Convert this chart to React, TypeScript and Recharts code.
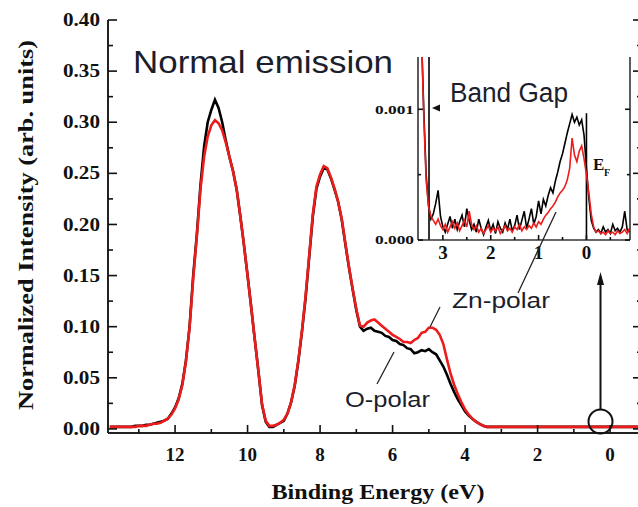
import React from "react";
import { LineChart, Line, XAxis, YAxis, ReferenceLine } from "recharts";

// main spectrum, binding energy in eV (x axis runs high -> low)
const energy = [
  13.8, 13.7, 13.6, 13.5, 13.4, 13.3, 13.2, 13.1, 13.0, 12.9,
  12.8, 12.7, 12.6, 12.5, 12.4, 12.3, 12.2, 12.1, 12.0, 11.9,
  11.8, 11.7, 11.6, 11.5, 11.4, 11.3, 11.2, 11.1, 11.0, 10.9,
  10.8, 10.7, 10.6, 10.5, 10.4, 10.3, 10.2, 10.1, 10.0, 9.9,
  9.8, 9.7, 9.6, 9.5, 9.4, 9.3, 9.2, 9.1, 9.0, 8.9,
  8.8, 8.7, 8.6, 8.5, 8.4, 8.3, 8.2, 8.1, 8.0, 7.9,
  7.8, 7.7, 7.6, 7.5, 7.4, 7.3, 7.2, 7.1, 7.0, 6.9,
  6.8, 6.7, 6.6, 6.5, 6.4, 6.3, 6.2, 6.1, 6.0, 5.9,
  5.8, 5.7, 5.6, 5.5, 5.4, 5.3, 5.2, 5.1, 5.0, 4.9,
  4.8, 4.7, 4.6, 4.5, 4.4, 4.3, 4.2, 4.1, 4.0, 3.9,
  3.8, 3.7, 3.6, 3.5, 3.4, 3.3, 3.2,
  3.0, 2.5, 2.0, 1.5, 1.0, 0.5, 0.0, -0.5, -0.88,
];

const oPolar = [
  0.002, 0.002, 0.002, 0.002, 0.002, 0.002, 0.002, 0.003, 0.003, 0.003,
  0.004, 0.004, 0.005, 0.006, 0.007, 0.008, 0.010, 0.015, 0.021, 0.030,
  0.044, 0.067, 0.100, 0.150, 0.190, 0.238, 0.276, 0.300, 0.312, 0.322,
  0.314, 0.300, 0.282, 0.266, 0.252, 0.234, 0.208, 0.180, 0.150, 0.119,
  0.087, 0.056, 0.023, 0.007, 0.002, 0.002, 0.004, 0.006, 0.008, 0.015,
  0.026, 0.042, 0.066, 0.095, 0.128, 0.168, 0.208, 0.235, 0.247, 0.255,
  0.254, 0.245, 0.234, 0.222, 0.204, 0.180, 0.157, 0.136, 0.116, 0.100,
  0.096, 0.098, 0.099, 0.096, 0.095, 0.094, 0.091, 0.090, 0.087, 0.086,
  0.083, 0.082, 0.079, 0.078, 0.074, 0.075, 0.077, 0.076, 0.078, 0.075,
  0.073, 0.067, 0.061, 0.053, 0.044, 0.036, 0.029, 0.023, 0.017, 0.013,
  0.010, 0.007, 0.005, 0.003, 0.002, 0.002, 0.002,
  0.002, 0.002, 0.002, 0.002, 0.002, 0.002, 0.002, 0.002, 0.002,
];

const znPolar = [
  0.002, 0.002, 0.002, 0.002, 0.002, 0.002, 0.002, 0.002, 0.003, 0.003,
  0.003, 0.004, 0.005, 0.005, 0.006, 0.008, 0.010, 0.014, 0.020, 0.029,
  0.043, 0.066, 0.099, 0.147, 0.188, 0.234, 0.266, 0.286, 0.297, 0.302,
  0.299, 0.292, 0.280, 0.266, 0.252, 0.234, 0.208, 0.180, 0.150, 0.119,
  0.087, 0.056, 0.024, 0.008, 0.003, 0.003, 0.004, 0.006, 0.009, 0.015,
  0.026, 0.043, 0.067, 0.096, 0.130, 0.170, 0.210, 0.237, 0.249, 0.257,
  0.255, 0.246, 0.235, 0.222, 0.205, 0.181, 0.158, 0.137, 0.117, 0.101,
  0.100, 0.104, 0.106, 0.107, 0.104, 0.101, 0.098, 0.095, 0.092, 0.090,
  0.088, 0.085, 0.085, 0.084, 0.087, 0.089, 0.094, 0.095, 0.099, 0.099,
  0.097, 0.092, 0.083, 0.068, 0.054, 0.043, 0.034, 0.026, 0.019, 0.014,
  0.010, 0.007, 0.005, 0.003, 0.002, 0.002, 0.002,
  0.002, 0.002, 0.002, 0.002, 0.002, 0.002, 0.002, 0.002, 0.002,
];

// inset: band gap region
const insetEnergy = [
  3.45, 3.4, 3.35, 3.3, 3.25, 3.2, 3.15, 3.1, 3.05, 3.0,
  2.95, 2.9, 2.85, 2.8, 2.75, 2.7, 2.65, 2.6, 2.55, 2.5,
  2.45, 2.4, 2.35, 2.3, 2.25, 2.2, 2.15, 2.1, 2.05, 2.0,
  1.95, 1.9, 1.85, 1.8, 1.75, 1.7, 1.65, 1.6, 1.55, 1.5,
  1.45, 1.4, 1.35, 1.3, 1.25, 1.2, 1.15, 1.1, 1.05, 1.0,
  0.95, 0.9, 0.85, 0.8, 0.75, 0.7, 0.65, 0.6, 0.55, 0.5,
  0.45, 0.4, 0.35, 0.3, 0.25, 0.2, 0.15, 0.1, 0.05, 0.0,
  -0.05, -0.1, -0.15, -0.2, -0.25, -0.3, -0.35, -0.4, -0.45, -0.5,
  -0.55, -0.6, -0.65, -0.7, -0.75, -0.8, -0.85, -0.9,
];

const insetO = [
  0.0016, 0.001, 0.0005, 0.00026, 0.00016, 0.0002, 0.00028, 0.00038, 0.00018, 0.0001,
  0.00006, 0.00012, 0.00018, 0.00009, 0.00016, 0.00008, 0.00014, 0.00019, 0.0001, 0.00024,
  0.00015, 0.00008, 0.00012, 0.00006, 0.00016, 0.00009, 0.00004, 0.0001, 0.00015, 0.00007,
  0.00012, 0.00005, 0.00014, 0.00009, 0.00006, 0.00013, 0.00008, 0.00016, 0.00007, 0.00011,
  0.00019, 0.00008, 0.00015, 0.00022, 0.00009, 0.00016, 0.00024, 0.00012, 0.00018, 0.0003,
  0.0002, 0.00031, 0.00026, 0.00034, 0.0004, 0.00036, 0.00045, 0.00052, 0.0006, 0.00066,
  0.00074, 0.00082, 0.00089, 0.00096, 0.0009, 0.00094, 0.00088, 0.00092, 0.0008, 0.00055,
  0.00032, 0.00015, 0.00009, 0.00006, 0.00008, 0.00005, 0.0001, 0.00006, 0.00008, 0.00005,
  0.00012, 0.00007, 0.00009, 0.00006, 0.0001, 0.00022, 0.00008, 0.00006,
];

const insetZn = [
  0.0016, 0.00095, 0.00046, 0.00026, 0.00018, 0.00015, 0.00012, 0.00016, 0.00011, 0.00008,
  0.00012, 0.00006, 0.0001, 0.00014, 0.00009, 0.00013, 0.00007, 0.00011, 0.00015, 0.0001,
  0.00022, 0.00012, 0.00008, 0.00011, 0.00006, 0.00009, 0.00005, 0.00008, 0.00011, 0.00006,
  0.00009, 0.00007, 0.0001, 0.00005, 0.00008, 0.00011, 0.00007, 0.00009, 0.00006, 0.0001,
  0.00008, 0.00012, 0.00007, 0.0001, 0.00008, 0.00011, 0.00009, 0.00013, 0.0001, 0.00014,
  0.00012, 0.00016, 0.00019, 0.00021, 0.00024, 0.00026, 0.00029, 0.00033, 0.00036, 0.00038,
  0.00041, 0.00046, 0.00055, 0.00078, 0.00065, 0.0006, 0.00068, 0.00072, 0.00062, 0.0005,
  0.00036, 0.0002, 0.0001, 0.00006, 0.00007, 0.00005, 0.00006, 0.00004, 0.00007, 0.00005,
  0.00006, 0.00004, 0.00007, 0.00005, 0.00006, 0.00008, 0.00005, 0.00009,
];

const mainXTicks = [13, 12, 11, 10, 9, 8, 7, 6, 5, 4, 3, 2, 1, 0];
const mainYTicks = [
  0, 0.025, 0.05, 0.075, 0.1, 0.125, 0.15, 0.175, 0.2,
  0.225, 0.25, 0.275, 0.3, 0.325, 0.35, 0.375, 0.4,
];
const insetXTicks = [3, 2.5, 2, 1.5, 1, 0.5, 0, -0.5];
const insetYTicks = [0, 0.0005, 0.001];

const SERIF = '"Liberation Serif", "Times New Roman", serif';
const SANS = '"Liberation Sans", Arial, sans-serif';
const INK = "#1b1e2c";
const RED = "#ec1c1c";

const mainRows = energy.map((e, i) => ({ e, o: oPolar[i], zn: znPolar[i] }));
const insetRows = insetEnergy.map((e, i) => ({ e, o: insetO[i], zn: insetZn[i] }));

const isMajor = (v: number, step: number) =>
  Math.abs(v / step - Math.round(v / step)) < 1e-6;

type TickOpts = {
  side: "bottom" | "top" | "left" | "right";
  step: number;
  major: number;
  minor: number;
  label?: (v: number) => string;
  fontSize?: number;
  offset?: number;
  textLength?: number;
};

// draws inward tick marks (and labels for the major ones)
const makeTick = (o: TickOpts) => (props: any) => {
  const { x, y, payload } = props;
  const v = payload.value as number;
  const big = isMajor(v, o.step);
  const len = big ? o.major : o.minor;
  let line;
  let text = null;
  if (o.side === "bottom" || o.side === "top") {
    const dir = o.side === "bottom" ? -1 : 1;
    line = <line x1={x} x2={x} y1={y} y2={y + dir * len} stroke="#111" strokeWidth={1.6} />;
    if (o.label && big)
      text = (
        <text x={x} y={y + (o.offset || 0)} textAnchor="middle" fontFamily={SERIF}
          fontWeight="bold" fontSize={o.fontSize} fill="#111">
          {o.label(v)}
        </text>
      );
  } else {
    const dir = o.side === "left" ? 1 : -1;
    line = <line x1={x} x2={x + dir * len} y1={y} y2={y} stroke="#111" strokeWidth={1.6} />;
    if (o.label && big)
      text = (
        <text x={x - (o.offset || 0)} y={y + (o.fontSize || 12) * 0.34} textAnchor="end"
          fontFamily={SERIF} fontWeight="bold" fontSize={o.fontSize} fill="#111"
          textLength={o.textLength} lengthAdjust="spacingAndGlyphs">
          {o.label(v)}
        </text>
      );
  }
  return (
    <g>
      {line}
      {text}
    </g>
  );
};

const axisLine = { stroke: "#222", strokeWidth: 2 };
const insetAxisLine = { stroke: "#333", strokeWidth: 1.6 };

function MainChart() {
  return (
    <LineChart width={650} height={507} data={mainRows}
      margin={{ top: 20, right: 0, bottom: 0, left: 0 }}>
      <XAxis dataKey="e" type="number" domain={[-0.88, 13.85]} reversed allowDataOverflow
        ticks={mainXTicks} interval={0} height={74} tickSize={0} tickMargin={0}
        axisLine={axisLine} tickLine={false}
        tick={makeTick({ side: "bottom", step: 2, major: 8, minor: 4, label: (v) => String(v), fontSize: 19, offset: 28 })} />
      <XAxis xAxisId="top" orientation="top" dataKey="e" type="number" domain={[-0.88, 13.85]}
        reversed allowDataOverflow ticks={mainXTicks} interval={0} height={0} tickSize={0}
        tickMargin={0} axisLine={axisLine} tickLine={false}
        tick={makeTick({ side: "top", step: 2, major: 8, minor: 4 })} />
      <YAxis type="number" domain={[-0.004, 0.4]} allowDataOverflow ticks={mainYTicks}
        interval={0} width={108} tickSize={0} tickMargin={0} axisLine={axisLine} tickLine={false}
        tick={makeTick({ side: "left", step: 0.05, major: 9, minor: 5, label: (v) => v.toFixed(2), fontSize: 18, offset: 8, textLength: 37 })} />
      <YAxis yAxisId="right" orientation="right" type="number" domain={[-0.004, 0.4]}
        allowDataOverflow ticks={mainYTicks} interval={0} width={8} tickSize={0} tickMargin={0}
        axisLine={axisLine} tickLine={false}
        tick={makeTick({ side: "right", step: 0.05, major: 9, minor: 5 })} />
      <Line dataKey="o" stroke="#000" strokeWidth={2.6} dot={false} isAnimationActive={false} />
      <Line dataKey="zn" stroke={RED} strokeWidth={2.6} dot={false} isAnimationActive={false} />
    </LineChart>
  );
}

function InsetChart() {
  return (
    <LineChart width={280} height={224} data={insetRows}
      margin={{ top: 17, right: 0, bottom: 0, left: 0 }}>
      <XAxis dataKey="e" type="number" domain={[-0.91, 3.52]} reversed allowDataOverflow
        ticks={insetXTicks} interval={0} height={24} tickSize={0} tickMargin={0}
        axisLine={insetAxisLine} tickLine={false}
        tick={makeTick({ side: "bottom", step: 1, major: 5, minor: 3, label: (v) => String(v), fontSize: 19, offset: 19 })} />
      <XAxis xAxisId="top" orientation="top" dataKey="e" type="number" domain={[-0.91, 3.52]}
        reversed allowDataOverflow ticks={insetXTicks} interval={0} height={0} tickSize={0}
        tickMargin={0} axisLine={insetAxisLine} tickLine={false}
        tick={makeTick({ side: "top", step: 1, major: 5, minor: 3 })} />
      <YAxis type="number" domain={[0, 0.0014]} allowDataOverflow ticks={insetYTicks}
        interval={0} width={58} tickSize={0} tickMargin={0} axisLine={insetAxisLine} tickLine={false}
        tick={makeTick({ side: "left", step: 0.001, major: 5, minor: 3, label: (v) => v.toFixed(3), fontSize: 13, offset: 4, textLength: 39 })} />
      <YAxis yAxisId="right" orientation="right" type="number" domain={[0, 0.0014]}
        allowDataOverflow ticks={insetYTicks} interval={0} width={10} tickSize={0} tickMargin={0}
        axisLine={insetAxisLine} tickLine={false}
        tick={makeTick({ side: "right", step: 0.001, major: 5, minor: 3 })} />
      <ReferenceLine x={3.29} stroke="#000" strokeWidth={1.6} ifOverflow="hidden" />
      <ReferenceLine segment={[{ x: 0, y: 0 }, { x: 0, y: 0.00097 }]} stroke="#000" strokeWidth={1.6} />
      <Line dataKey="o" stroke="#000" strokeWidth={1.6} dot={false} isAnimationActive={false} />
      <Line dataKey="zn" stroke={RED} strokeWidth={1.6} dot={false} isAnimationActive={false} />
    </LineChart>
  );
}

export default function App() {
  return (
    <div style={{ position: "absolute", left: 0, top: 0, width: 638, height: 507, overflow: "hidden", background: "#fff" }}>
      <div style={{ position: "absolute", left: 0, top: 0 }}>
        <MainChart />
      </div>
      <div style={{ position: "absolute", left: 360, top: 40 }}>
        <InsetChart />
      </div>
      <svg width={638} height={507} style={{ position: "absolute", left: 0, top: 0, pointerEvents: "none" }}>
        <text x={133} y={73} fontFamily={SANS} fontSize={32} fill={INK} textLength={260} lengthAdjust="spacingAndGlyphs">
          Normal emission
        </text>
        <text x={450} y={102} fontFamily={SANS} fontSize={27} fill={INK} textLength={118} lengthAdjust="spacingAndGlyphs">
          Band Gap
        </text>
        <polygon points="432,108 440,104.5 440,111.5" fill="#111" />
        <text x={593} y={170} fontFamily={SERIF} fontWeight="bold" fontSize={17} fill="#111">E</text>
        <text x={604} y={176} fontFamily={SERIF} fontWeight="bold" fontSize={10} fill="#111">F</text>
        <line x1={556} y1={212} x2={518} y2={293} stroke="#222" strokeWidth={1.3} />
        <line x1={440} y1={307} x2={430} y2={327} stroke="#222" strokeWidth={1.3} />
        <text x={452} y={308} fontFamily={SANS} fontSize={22} fill={INK} textLength={98} lengthAdjust="spacingAndGlyphs">
          Zn-polar
        </text>
        <line x1={394} y1={352} x2={377} y2={384} stroke="#222" strokeWidth={1.3} />
        <text x={345} y={407} fontFamily={SANS} fontSize={22} fill={INK} textLength={85} lengthAdjust="spacingAndGlyphs">
          O-polar
        </text>
        <circle cx={600.5} cy={421.5} r={12} fill="none" stroke="#111" strokeWidth={2} />
        <line x1={600.5} y1={409.5} x2={600.5} y2={282} stroke="#111" strokeWidth={2} />
        <polygon points="600.5,272 597,285 604,285" fill="#111" />
        <text transform="rotate(-90, 33, 225)" x={33} y={225} textAnchor="middle" fontFamily={SERIF}
          fontWeight="bold" fontSize={22} fill="#111" textLength={370} lengthAdjust="spacingAndGlyphs">
          Normalized Intensity (arb. units)
        </text>
        <text x={378} y={499} textAnchor="middle" fontFamily={SERIF} fontWeight="bold" fontSize={22}
          fill="#111" textLength={213} lengthAdjust="spacingAndGlyphs">
          Binding Energy (eV)
        </text>
      </svg>
    </div>
  );
}
